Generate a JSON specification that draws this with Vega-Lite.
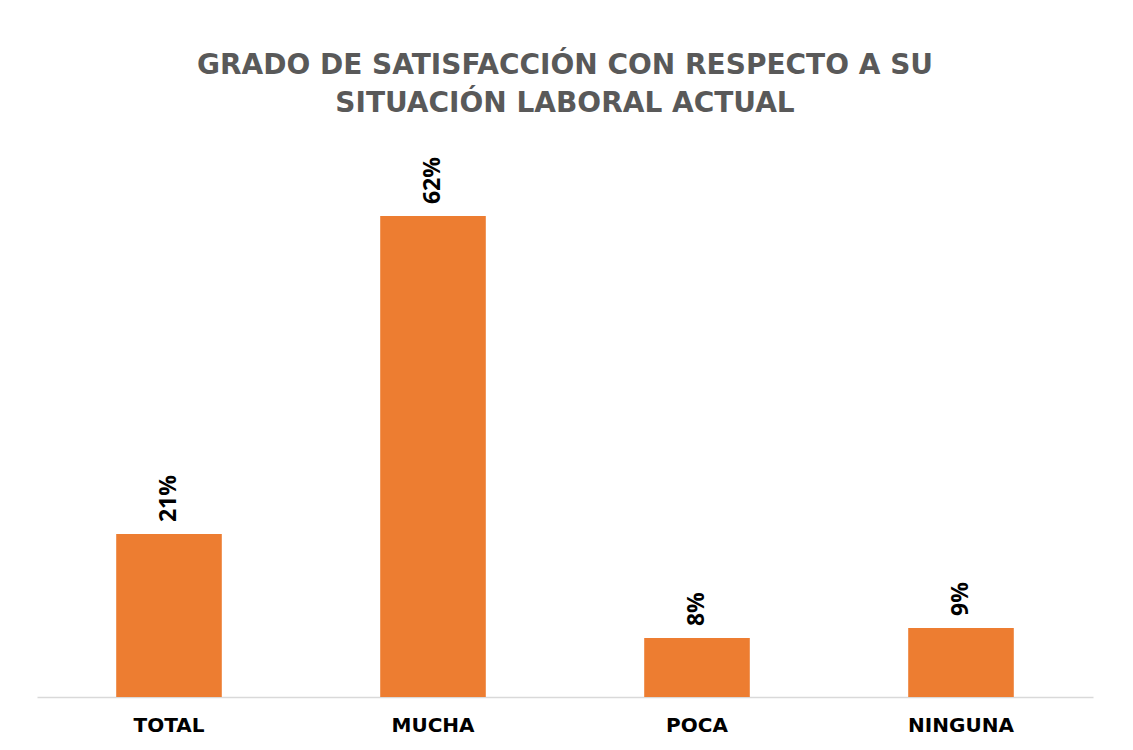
{
  "$schema": "https://vega.github.io/schema/vega-lite/v6.json",
  "width": 1056,
  "height": 543,
  "autosize": {"type": "none"},
  "padding": {"left": 37, "top": 154, "right": 40, "bottom": 53},
  "background": "white",
  "title": {
    "text": ["GRADO DE SATISFACCIÓN CON RESPECTO A SU", "SITUACIÓN LABORAL ACTUAL"],
    "font": "DejaVu Sans",
    "fontSize": 28,
    "fontWeight": "bold",
    "color": "#595959",
    "lineHeight": 38,
    "offset": 36,
    "anchor": "middle"
  },
  "data": {
    "values": [
      {"categoria": "TOTAL", "valor": 0.21},
      {"categoria": "MUCHA", "valor": 0.62},
      {"categoria": "POCA", "valor": 0.076},
      {"categoria": "NINGUNA", "valor": 0.089}
    ]
  },
  "encoding": {
    "x": {
      "field": "categoria",
      "type": "nominal",
      "sort": null,
      "scale": {"paddingInner": 0.6, "paddingOuter": 0.3},
      "axis": {
        "title": null,
        "labelAngle": 0,
        "labelFont": "DejaVu Sans",
        "labelFontSize": 20,
        "labelFontWeight": "bold",
        "labelColor": "#000000",
        "labelPadding": 18,
        "ticks": false,
        "domainColor": "#d9d9d9",
        "domainWidth": 1.5,
        "grid": false
      }
    },
    "y": {
      "field": "valor",
      "type": "quantitative",
      "scale": {"domain": [0, 0.7], "nice": false},
      "axis": null
    }
  },
  "layer": [
    {"mark": {"type": "bar", "color": "#ED7D31"}},
    {
      "mark": {
        "type": "text",
        "angle": 270,
        "align": "left",
        "baseline": "middle",
        "dx": 12,
        "font": "Open Sans",
        "fontSize": 23,
        "fontWeight": "bold",
        "color": "#000000"
      },
      "encoding": {
        "text": {"field": "valor", "type": "quantitative", "format": ".0%"}
      }
    }
  ],
  "config": {"view": {"stroke": null}}
}
